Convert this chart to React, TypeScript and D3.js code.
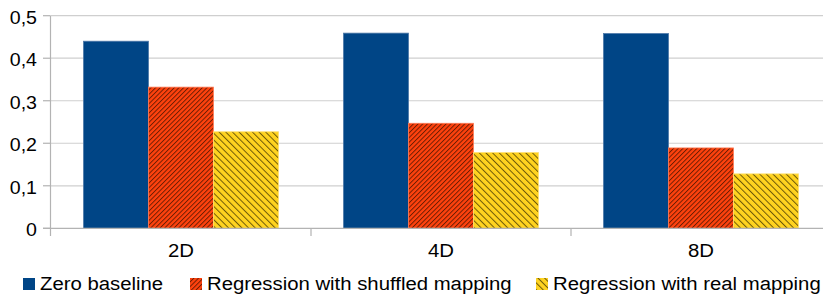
import React from "react";
import * as d3 from "d3";

const groups = ["2D", "4D", "8D"];
const series = [
  "Zero baseline",
  "Regression with shuffled mapping",
  "Regression with real mapping",
];
const zeroBaseline = [0.44, 0.459, 0.458];
const shuffledMapping = [0.332, 0.247, 0.189];
const realMapping = [0.227, 0.178, 0.128];
const yTicks = [0, 0.1, 0.2, 0.3, 0.4, 0.5];

const WIDTH = 823;
const HEIGHT = 294;
const FONT = "'Liberation Sans', Arial, sans-serif";

const fills = ["#004586", "url(#hatch-orange)", "url(#hatch-yellow)"];
const strokes = ["#4d78a8", "#ff7a55", "#ffe070"];

const values = [zeroBaseline, shuffledMapping, realMapping];

const fmt = (v: number) => String(+v.toFixed(1)).replace(".", ",");

function Label({ x, y, anchor, size = 18, sx = 1.13, children }: any) {
  return (
    <text
      transform={`translate(${x} ${y}) scale(${sx} 1)`}
      textAnchor={anchor}
      fontFamily={FONT}
      fontSize={size}
      fill="#000"
    >
      {children}
    </text>
  );
}

export default function App() {
  const x = d3.scaleBand().domain(groups).range([51, 831]);
  const inner = d3
    .scaleBand()
    .domain(series)
    .range([0, x.bandwidth()])
    .paddingInner(0)
    .paddingOuter(0.5);
  const y = d3.scaleLinear().domain([0, 0.5]).range([228.3, 15.7]);

  const legendX = [23, 190, 536];

  return (
    <div style={{ position: "absolute", left: 0, top: 0 }}>
      <svg width={WIDTH} height={HEIGHT} style={{ display: "block" }}>
        <defs>
          <pattern
            id="hatch-orange"
            patternUnits="userSpaceOnUse"
            width={3.3}
            height={3.3}
            patternTransform="rotate(45)"
          >
            <rect width={3.3} height={3.3} fill="#ff420e" />
            <line x1={0.5} y1={0} x2={0.5} y2={3.3} stroke="#3a1000" strokeWidth={0.9} opacity={0.8} />
          </pattern>
          <pattern
            id="hatch-yellow"
            patternUnits="userSpaceOnUse"
            width={4.7}
            height={4.7}
            patternTransform="rotate(-45)"
          >
            <rect width={4.7} height={4.7} fill="#ffd320" />
            <line x1={0.5} y1={0} x2={0.5} y2={4.7} stroke="#3d3000" strokeWidth={1} opacity={0.75} />
          </pattern>
        </defs>

        {yTicks.map((t) => (
          <g key={t}>
            {t > 0 && (
              <line x1={51} x2={WIDTH} y1={y(t)} y2={y(t)} stroke="#cfcfcf" strokeWidth={1.2} />
            )}
            <line x1={43} x2={50.5} y1={y(t)} y2={y(t)} stroke="#b3b3b3" strokeWidth={1.2} />
            <Label x={37} y={y(t) + 8} anchor="end" size={17.5} sx={1.12}>
              {fmt(t)}
            </Label>
          </g>
        ))}

        {groups.map((g, gi) =>
          series.map((s, si) => (
            <rect
              key={g + s}
              x={(x(g) ?? 0) + (inner(s) ?? 0)}
              width={inner.bandwidth()}
              y={y(values[si][gi])}
              height={y(0) - y(values[si][gi])}
              fill={fills[si]}
              stroke={strokes[si]}
              strokeWidth={0.8}
            />
          ))
        )}

        <line x1={50.5} x2={50.5} y1={y(0.5)} y2={236} stroke="#b3b3b3" strokeWidth={1.2} />
        <line x1={43} x2={WIDTH} y1={y(0)} y2={y(0)} stroke="#b3b3b3" strokeWidth={1.2} />
        {groups.slice(1).map((g) => (
          <line key={g} x1={x(g)} x2={x(g)} y1={y(0)} y2={236} stroke="#b3b3b3" strokeWidth={1.2} />
        ))}
        {groups.map((g) => (
          <Label key={g} x={(x(g) ?? 0) + x.bandwidth() / 2} y={257} anchor="middle">
            {g}
          </Label>
        ))}

        {series.map((s, si) => (
          <g key={s}>
            <rect
              x={legendX[si]}
              y={278}
              width={12}
              height={12}
              fill={fills[si]}
            />
            <Label x={legendX[si] + 17} y={290} anchor="start">
              {s}
            </Label>
          </g>
        ))}
      </svg>
    </div>
  );
}
